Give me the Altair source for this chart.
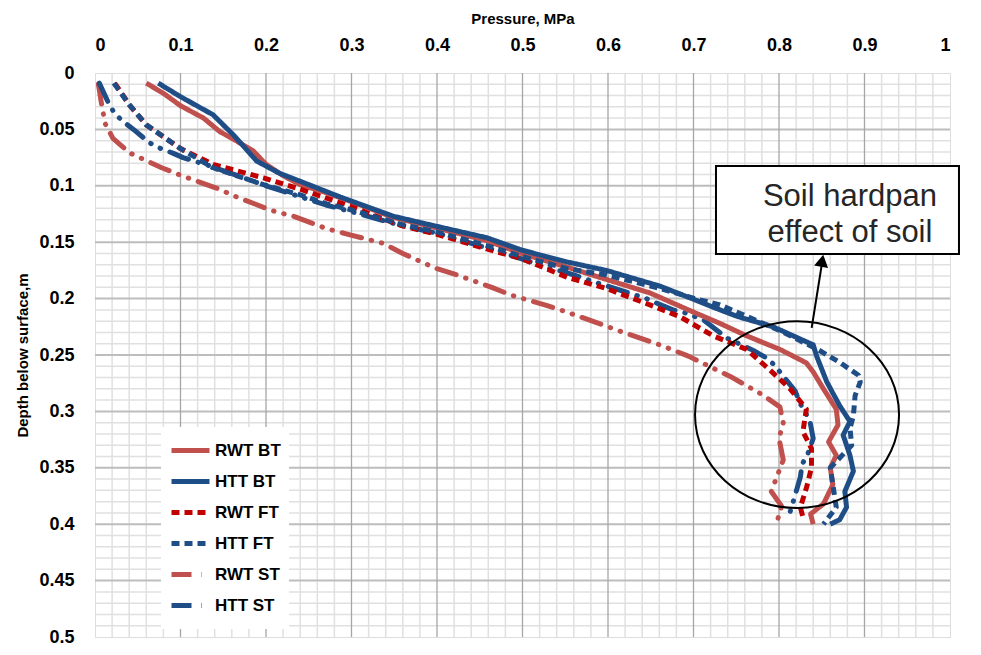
import altair as alt
import pandas as pd

series_names = ["RWT BT", "HTT BT", "RWT FT", "HTT FT", "RWT ST", "HTT ST"]
series_colors = ["#C0504D", "#1F4E86", "#C00000", "#1F4E86", "#C0504D", "#1F4E86"]
series_widths = [5, 5, 3, 3, 2.5, 2.5]
series_dashes = [[1, 0], [1, 0], [8, 5], [8, 5], [20, 10, 0.5, 10, 0.5, 10], [20, 10, 0.5, 10, 0.5, 10]]

# pressure (MPa) and depth (m) for each series
rwt_bt_p = [0.060, 0.080, 0.100, 0.127, 0.146, 0.165, 0.185, 0.200, 0.220, 0.240, 0.270, 0.298, 0.349, 0.400,
            0.458, 0.499, 0.552, 0.598, 0.649, 0.700, 0.731, 0.762, 0.801, 0.832, 0.840, 0.852, 0.867, 0.869,
            0.858, 0.867, 0.860, 0.863, 0.852, 0.837, 0.840]
rwt_bt_d = [0.009, 0.018, 0.029, 0.040, 0.052, 0.060, 0.069, 0.081, 0.091, 0.099, 0.106, 0.1135, 0.128, 0.1375,
            0.1485, 0.160, 0.172, 0.183, 0.195, 0.212, 0.222, 0.233, 0.245, 0.257, 0.265, 0.280, 0.298, 0.312,
            0.327, 0.339, 0.350, 0.365, 0.382, 0.391, 0.400]

htt_bt_p = [0.074, 0.100, 0.138, 0.162, 0.189, 0.216, 0.240, 0.287, 0.349, 0.400, 0.458, 0.499, 0.552, 0.598,
            0.661, 0.700, 0.731, 0.752, 0.793, 0.840, 0.844, 0.856, 0.871, 0.883, 0.875, 0.883, 0.887, 0.877,
            0.879, 0.871, 0.860]
htt_bt_d = [0.009, 0.021, 0.037, 0.055, 0.078, 0.089, 0.096, 0.110, 0.127, 0.136, 0.146, 0.157, 0.1675, 0.175,
            0.189, 0.2006, 0.210, 0.216, 0.225, 0.241, 0.251, 0.274, 0.295, 0.309, 0.321, 0.339, 0.353, 0.371,
            0.385, 0.396, 0.400]

rwt_ft_p = [0.023, 0.041, 0.060, 0.100, 0.138, 0.197, 0.240, 0.298, 0.357, 0.400, 0.458, 0.499, 0.552, 0.598,
            0.649, 0.684, 0.723, 0.762, 0.789, 0.813, 0.832, 0.828, 0.838, 0.838, 0.832, 0.825, 0.829]
rwt_ft_d = [0.009, 0.029, 0.046, 0.067, 0.081, 0.093, 0.103, 0.118, 0.135, 0.143, 0.156, 0.1646, 0.181, 0.191,
            0.2056, 0.216, 0.233, 0.245, 0.263, 0.280, 0.298, 0.318, 0.333, 0.350, 0.368, 0.385, 0.397]

htt_ft_p = [0.022, 0.041, 0.060, 0.100, 0.138, 0.197, 0.240, 0.271, 0.298, 0.357, 0.400, 0.458, 0.499, 0.552,
            0.598, 0.661, 0.700, 0.731, 0.800, 0.845, 0.870, 0.893, 0.895, 0.889, 0.887, 0.883, 0.885, 0.860,
            0.863, 0.867, 0.852]
htt_ft_d = [0.009, 0.029, 0.046, 0.067, 0.084, 0.099, 0.108, 0.116, 0.121, 0.134, 0.141, 0.153, 0.1626, 0.1734,
            0.179, 0.191, 0.1997, 0.2056, 0.228, 0.245, 0.256, 0.268, 0.274, 0.286, 0.304, 0.315, 0.330, 0.350,
            0.365, 0.385, 0.400]

rwt_st_p = [0.004, 0.008, 0.012, 0.021, 0.041, 0.078, 0.103, 0.142, 0.166, 0.207, 0.232, 0.271, 0.296, 0.337,
            0.360, 0.398, 0.423, 0.464, 0.487, 0.528, 0.552, 0.593, 0.618, 0.657, 0.694, 0.721, 0.743, 0.780,
            0.801, 0.805, 0.800, 0.805, 0.800, 0.791, 0.803, 0.798]
rwt_st_d = [0.010, 0.029, 0.045, 0.058, 0.071, 0.084, 0.0915, 0.102, 0.110, 0.122, 0.127, 0.138, 0.143, 0.151,
            0.160, 0.173, 0.179, 0.190, 0.197, 0.206, 0.212, 0.223, 0.230, 0.240, 0.251, 0.261, 0.269, 0.285,
            0.296, 0.310, 0.324, 0.343, 0.353, 0.371, 0.384, 0.397]

htt_st_p = [0.005, 0.016, 0.023, 0.033, 0.045, 0.064, 0.077, 0.091, 0.103, 0.133, 0.200, 0.270, 0.300, 0.357,
            0.400, 0.458, 0.500, 0.532, 0.548, 0.583, 0.645, 0.663, 0.676, 0.692, 0.712, 0.739, 0.770, 0.784,
            0.795, 0.803, 0.819, 0.824, 0.836, 0.840, 0.834, 0.827, 0.825, 0.819, 0.811]
htt_st_d = [0.009, 0.027, 0.036, 0.043, 0.050, 0.062, 0.067, 0.071, 0.075, 0.082, 0.100, 0.117, 0.123, 0.135,
            0.142, 0.155, 0.165, 0.1734, 0.176, 0.185, 0.200, 0.206, 0.210, 0.213, 0.219, 0.235, 0.246, 0.252,
            0.259, 0.267, 0.282, 0.292, 0.308, 0.324, 0.337, 0.347, 0.358, 0.374, 0.394]

# annotations
note_lines = ["Soil hardpan", "effect of soil"]
note_p = [0.883, 0.883]
note_d = [0.1178, 0.150]
box_p = [0.7263, 1.0105]
box_d = [0.0825, 0.1605]
ellipse_center = [0.8211, 0.3029]
arrow_start = [0.8382, 0.226]
arrow_end = [0.8500, 0.170]
arrow_head = [0.8505, 0.1665]

x_ticks = [round(0.1 * k, 1) for k in range(0, 11)]
y_ticks = [round(0.05 * k, 2) for k in range(0, 11)]
x_minor = [round(0.02 * k, 2) for k in range(1, 50) if k % 5]
x_major = [round(0.1 * k, 1) for k in range(1, 10)]
y_minor = [round(0.01 * k, 2) for k in range(1, 50) if k % 5]
y_major = [round(0.05 * k, 2) for k in range(1, 10)]

rows = []
for name, ps, ds in [("RWT BT", rwt_bt_p, rwt_bt_d), ("HTT BT", htt_bt_p, htt_bt_d),
                     ("RWT FT", rwt_ft_p, rwt_ft_d), ("HTT FT", htt_ft_p, htt_ft_d),
                     ("RWT ST", rwt_st_p, rwt_st_d), ("HTT ST", htt_st_p, htt_st_d)]:
    for i, (p, d) in enumerate(zip(ps, ds)):
        rows.append({"series": name, "p": p, "d": d, "i": i})
df = pd.DataFrame(rows)

FONT = "Liberation Sans"
x_scale = alt.Scale(domain=[0, 1], nice=False, zero=False)
y_scale = alt.Scale(domain=[0, 0.5], reverse=True, nice=False, zero=False)
x_axis = alt.Axis(orient="top", values=x_ticks, format=".1~f", grid=False, domain=False, ticks=False,
                  labelPadding=19, labelFontSize=18, labelFontWeight="bold", labelFont=FONT, labelColor="black",
                  title="Pressure, MPa", titleFontSize=15, titleFont=FONT, titleFontWeight="bold",
                  titleColor="black", titlePadding=10)
y_axis = alt.Axis(orient="left", values=y_ticks, format=".2~f", grid=False, domain=False, ticks=False,
                  labelPadding=21, labelFontSize=18, labelFontWeight="bold", labelFont=FONT, labelColor="black",
                  title="Depth below surface,m", titleFontSize=15, titleFont=FONT, titleFontWeight="bold",
                  titleColor="black", titlePadding=8)


def X(f):
    return alt.X(f"{f}:Q", scale=x_scale, axis=x_axis, title="Pressure, MPa")


def Y(f):
    return alt.Y(f"{f}:Q", scale=y_scale, axis=y_axis, title="Depth below surface,m")


grid_minor_x = alt.Chart(pd.DataFrame({"p": x_minor})).mark_rule(color="#e0e0e0", strokeWidth=1.5).encode(x=X("p"))
grid_minor_y = alt.Chart(pd.DataFrame({"d": y_minor})).mark_rule(color="#e0e0e0", strokeWidth=1.5).encode(y=Y("d"))
grid_major_x = alt.Chart(pd.DataFrame({"p": x_major})).mark_rule(color="#a6a6a6", strokeWidth=1.3).encode(x=X("p"))
grid_major_y = alt.Chart(pd.DataFrame({"d": y_major})).mark_rule(color="#bdbdbd", strokeWidth=2).encode(y=Y("d"))

legend = alt.Legend(title=None, orient="none", legendX=66, legendY=354, symbolType="stroke", symbolSize=1444,
                    clipHeight=31, rowPadding=0, labelFontSize=17, labelFont=FONT, labelFontWeight="bold",
                    labelColor="black", labelOffset=3, fillColor="white", padding=8)

enc = dict(
    x=X("p"), y=Y("d"), order=alt.Order("i:Q"),
    color=alt.Color("series:N", scale=alt.Scale(domain=series_names, range=series_colors), legend=legend),
    strokeDash=alt.StrokeDash("series:N", scale=alt.Scale(domain=series_names, range=series_dashes), legend=legend),
    strokeWidth=alt.StrokeWidth("series:N", scale=alt.Scale(domain=series_names, range=series_widths), legend=legend),
)

lines_main = alt.Chart(df[~df.series.isin(["RWT ST", "HTT ST"])]).mark_line(
    strokeJoin="round", strokeCap="butt").encode(**enc)
lines_st = alt.Chart(df[df.series.isin(["RWT ST", "HTT ST"])]).mark_line(
    strokeJoin="round", strokeCap="round").encode(**enc)

ellipse_path = "M -1 0 A 1 0.915 0 1 0 1 0 A 1 0.915 0 1 0 -1 0 Z"
ellipse = alt.Chart(pd.DataFrame({"p": [ellipse_center[0]], "d": [ellipse_center[1]]})).mark_point(
    shape=ellipse_path, size=41616, filled=False, color="black", strokeWidth=2, opacity=1).encode(x=X("p"), y=Y("d"))

box = alt.Chart(pd.DataFrame({"p": [box_p[0]], "p2": [box_p[1]], "d": [box_d[0]], "d2": [box_d[1]]})).mark_rect(
    fill="white", stroke="black", strokeWidth=2).encode(x=X("p"), x2="p2:Q", y=Y("d"), y2="d2:Q")

note = alt.Chart(pd.DataFrame({"p": note_p, "d": note_d, "t": note_lines})).mark_text(
    font=FONT, fontSize=31, color="#262626", align="center", baseline="alphabetic").encode(
    x=X("p"), y=Y("d"), text="t:N")

arrow = alt.Chart(pd.DataFrame({"p": [arrow_start[0]], "d": [arrow_start[1]],
                                "p2": [arrow_end[0]], "d2": [arrow_end[1]]})).mark_rule(
    color="black", strokeWidth=2).encode(x=X("p"), y=Y("d"), x2="p2:Q", y2="d2:Q")
head = alt.Chart(pd.DataFrame({"p": [arrow_head[0]], "d": [arrow_head[1]]})).mark_point(
    shape="triangle-up", size=200, filled=True, color="black", opacity=1, angle=10).encode(x=X("p"), y=Y("d"))

chart = alt.layer(grid_minor_x, grid_minor_y, grid_major_y, grid_major_x, lines_st, lines_main,
                  ellipse, arrow, head, box, note).properties(
    width=855, height=564,
    autosize=alt.AutoSizeParams(type="none"),
    padding={"left": 87, "top": 65, "right": 23, "bottom": 10},
).configure_view(stroke="black", strokeWidth=1.5).configure(background="white")

chart.save("out.html", embed_options={"renderer": "svg", "actions": False})
